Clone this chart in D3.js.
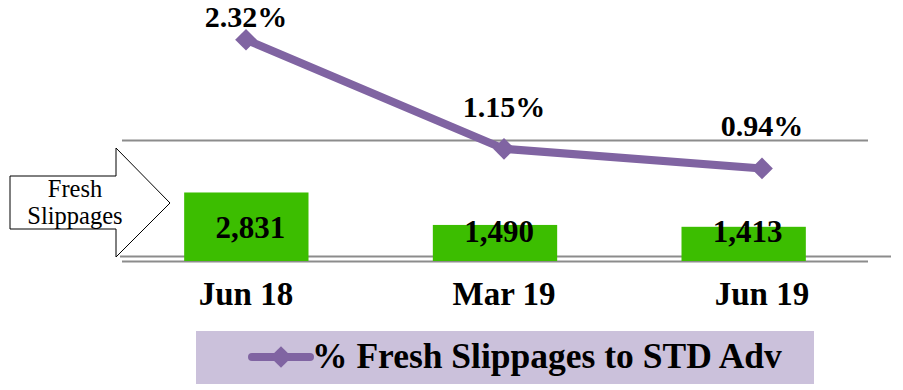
<!DOCTYPE html>
<html>
<head>
<meta charset="utf-8">
<script src="https://cdn.jsdelivr.net/npm/d3@7"></script>
<style>
  html, body { margin: 0; padding: 0; background: #fff; }
  svg { display: block; }
</style>
</head>
<body>
<svg id="chart" width="903" height="390"></svg>
<script>
// Quarterly fresh slippages (count, bars) and their share of standard advances (%, line)
const categories = ["Jun 18", "Mar 19", "Jun 19"];
const slippages = [2831, 1490, 1413];
const slippagePct = [2.32, 1.15, 0.94];
const barTicks = [0, 5000];
const seriesName = "% Fresh Slippages to STD Adv";
const sideLabel = ["Fresh", "Slippages"];

const GREEN = "#3cbe00";
const PURPLE = "#8064a2";
const GRID = "#8c8c8c";
const FONT = '"Liberation Serif"';

const svg = d3.select("#chart");

// Scales: bars on the primary axis, the percentage line on the secondary axis
const xBar = d3.scaleBand().domain(categories).range([122, 868]).paddingInner(0.5).paddingOuter(0.25);
const xLine = d3.scaleBand().domain(categories).range([117, 891]).padding(0);
const yBar = d3.scaleLinear().domain([0, 5000]).range([261, 140]);
const yPct = d3.scaleLinear().domain([0, 2.5]).range([256, 23]);
const cx = c => xLine(c) + xLine.bandwidth() / 2;

// Gridlines of the primary axis
svg.append("g").selectAll("line").data(barTicks).join("line")
  .attr("x1", xBar.range()[0]).attr("x2", xBar.range()[1])
  .attr("y1", d => yBar(d) + 0.5).attr("y2", d => yBar(d) + 0.5)
  .attr("stroke", GRID).attr("stroke-width", 2);

// Zero line of the secondary axis
svg.append("line")
  .attr("x1", 120).attr("x2", xLine.range()[1])
  .attr("y1", yPct(0) + 0.5).attr("y2", yPct(0) + 0.5)
  .attr("stroke", GRID).attr("stroke-width", 2);

// Bars
const barData = categories.map((c, i) => ({ c, v: slippages[i] }));
svg.append("g").selectAll("rect").data(barData).join("rect")
  .attr("x", d => xBar(d.c))
  .attr("y", d => yBar(d.v))
  .attr("width", xBar.bandwidth())
  .attr("height", d => yBar(0) - yBar(d.v))
  .attr("fill", GREEN);

// Bar value labels
svg.append("g").selectAll("text").data(barData).join("text")
  .attr("x", d => xBar(d.c) + xBar.bandwidth() / 2 + 4)
  .attr("y", d => Math.min((yBar(d.v) + yBar(0)) / 2, yBar(0) - 30))
  .attr("dy", "0.35em")
  .attr("text-anchor", "middle")
  .style("font-family", FONT)
  .attr("font-weight", "bold").attr("font-size", 31)
  .text(d => d3.format(",")(d.v));

// Percentage line with diamond markers
const lineData = categories.map((c, i) => ({ c, v: slippagePct[i] }));
svg.append("path").datum(lineData)
  .attr("d", d3.line().x(d => cx(d.c)).y(d => yPct(d.v)))
  .attr("fill", "none").attr("stroke", PURPLE).attr("stroke-width", 8);

const diamond = d3.symbol().type(d3.symbolDiamond2).size(300);
svg.append("g").selectAll("path").data(lineData).join("path")
  .attr("transform", d => `translate(${cx(d.c)},${yPct(d.v)})`)
  .attr("d", diamond)
  .attr("fill", PURPLE);

// Percentage labels
svg.append("g").selectAll("text").data(lineData).join("text")
  .attr("x", d => cx(d.c))
  .attr("y", d => Math.max(yPct(d.v) - 32, 27))
  .attr("text-anchor", "middle")
  .style("font-family", FONT)
  .attr("font-weight", "bold").attr("font-size", 30)
  .text(d => d.v.toFixed(2) + "%");

// Category axis labels
svg.append("g").selectAll("text").data(categories).join("text")
  .attr("x", d => cx(d))
  .attr("y", 305)
  .attr("text-anchor", "middle")
  .style("font-family", FONT)
  .attr("font-weight", "bold").attr("font-size", 33)
  .text(d => d);

// "Fresh Slippages" arrow callout
svg.append("polygon")
  .attr("points", [[10, 176], [116, 176], [116, 148], [170, 203], [116, 257], [116, 229], [10, 229]].join(" "))
  .attr("fill", "#fff").attr("stroke", "#000").attr("stroke-width", 1);
svg.append("g").selectAll("text").data(sideLabel).join("text")
  .attr("x", 75)
  .attr("y", (d, i) => 197 + i * 27)
  .attr("text-anchor", "middle")
  .style("font-family", FONT)
  .attr("font-size", 24.5)
  .text(d => d);

// Legend
const legend = svg.append("g");
legend.append("rect")
  .attr("x", 196).attr("y", 331).attr("width", 618).attr("height", 53)
  .attr("fill", "#cbc1db");
legend.append("line")
  .attr("x1", 252).attr("x2", 310).attr("y1", 357).attr("y2", 357)
  .attr("stroke", PURPLE).attr("stroke-width", 8).attr("stroke-linecap", "round");
legend.append("path")
  .attr("transform", "translate(281,357)")
  .attr("d", diamond)
  .attr("fill", PURPLE);
legend.append("text")
  .attr("x", 312).attr("y", 368)
  .style("font-family", FONT)
  .attr("font-weight", "bold").attr("font-size", 35.5)
  .text(seriesName);
</script>
</body>
</html>
